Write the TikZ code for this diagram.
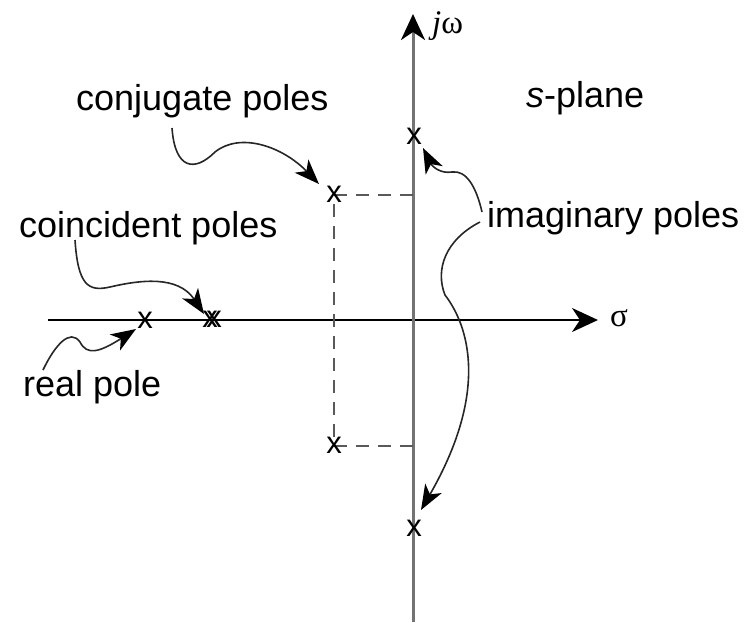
\documentclass[tikz,border=0pt]{standalone}
\usepackage{fontspec}
\setmainfont{Liberation Sans}
\newfontfamily\serifsym{Liberation Serif}
\usetikzlibrary{arrows.meta}
\tikzset{
  lbl/.style={font=\fontsize{36}{42}\selectfont, inner sep=0pt, anchor=base west},
  pole/.style={font=\fontsize{31}{36}\selectfont, inner sep=0pt},
  axisx/.style={line width=2pt, black, -{Stealth[length=26pt,width=24pt,inset=8pt]}},
  axisy/.style={line width=3pt, black!55, -{Stealth[length=26pt,width=24pt,inset=8pt,color=black]}},
  guide/.style={line width=2.4pt, black!65, dash pattern=on 13pt off 9pt},
  pointer/.style={line width=1.6pt, black!85, -{Stealth[length=25pt,width=19pt,inset=7pt,color=black]}},
}
\begin{document}
\begin{tikzpicture}[x=1pt,y=-1pt]
\useasboundingbox (0,0) rectangle (744,622);
% axes
\coordinate (xl) at (48,320);
\coordinate (xr) at (598,320);
\coordinate (yb) at (413,622);
\coordinate (yt) at (413,14);
\draw[axisx] (xl) -- (xr);
\draw[axisy] (yb) -- (yt);
\node[inner sep=0pt, anchor=base west, font=\serifsym\fontsize{33}{38}\selectfont] (sig) at (610,326) {σ};
\node[inner sep=0pt, anchor=base west, font=\serifsym\fontsize{33}{38}\selectfont] (jw) at (432,33) {\textit{j}ω};
% dashed guides
\coordinate (cu) at (334,195);
\coordinate (cl) at (334,446);
\coordinate (au) at (413,195);
\coordinate (al) at (413,446);
\draw[guide] (au) -- (cu) -- (cl) -- (al);
% poles
\node[pole] (p1) at (145,320) {x};
\node[pole] (p2a) at (210,319) {x};
\node[pole] (p2b) at (214,319) {x};
\node[pole] (p3) at (334,194) {x};
\node[pole] (p4) at (334,445) {x};
\node[pole] (p5) at (414,136) {x};
\node[pole] (p6) at (414,528) {x};
% labels
\node[lbl] (tconj) at (76,110) {conjugate poles};
\node[lbl] (tcoin) at (19,237) {coincident poles};
\node[lbl] (treal) at (23,396) {real pole};
\node[lbl] (tsp) at (526,107) {\textit{s}-plane};
\node[lbl] (timag) at (487,227) {imaginary poles};
% pointers
\coordinate (s1) at (172,128);
\coordinate (e1) at (319,184);
\draw[pointer] (s1) .. controls (175,170) and (195,172) .. (215,152) .. controls (240,132) and (282,146) .. (e1);
\coordinate (s2) at (75,240);
\coordinate (e2) at (204,314);
\draw[pointer] (s2) .. controls (78,285) and (88,292) .. (110,287) .. controls (140,280) and (178,275) .. (e2);
\coordinate (s3) at (43,370);
\coordinate (e3) at (136,329);
\draw[pointer] (s3) .. controls (55,345) and (70,328) .. (80,342) .. controls (87,356) and (100,352) .. (e3);
\coordinate (s4) at (482,212);
\coordinate (e4) at (423,148);
\draw[pointer] (s4) .. controls (476,186) and (466,170) .. (452,172) .. controls (440,174) and (432,166) .. (e4);
\coordinate (s5) at (480,222);
\coordinate (e5) at (421,510);
\draw[pointer] (s5) .. controls (445,240) and (435,270) .. (445,295) .. controls (468,325) and (490,390) .. (e5);
\end{tikzpicture}
\end{document}
